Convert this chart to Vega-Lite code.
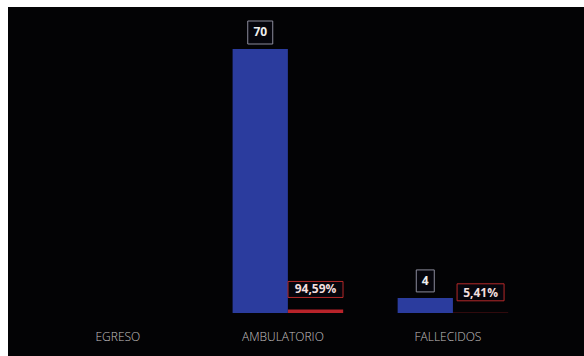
{
  "$schema": "https://vega.github.io/schema/vega-lite/v6.json",
  "autosize": "none",
  "padding": {"left": 8, "top": 7, "right": 0, "bottom": 0},
  "width": 576,
  "height": 349,
  "background": "white",
  "config": {
    "view": {"fill": "#030305", "stroke": null},
    "font": "Open Sans"
  },
  "data": {
    "values": [
      {"cat": "EGRESO", "serie": "Cantidad", "valor": 0, "etiqueta": ""},
      {"cat": "EGRESO", "serie": "Porcentaje", "valor": 0, "etiqueta": ""},
      {"cat": "AMBULATORIO", "serie": "Cantidad", "valor": 70, "etiqueta": "70"},
      {"cat": "AMBULATORIO", "serie": "Porcentaje", "valor": 0.9459, "etiqueta": "94,59%"},
      {"cat": "FALLECIDOS", "serie": "Cantidad", "valor": 4, "etiqueta": "4"},
      {"cat": "FALLECIDOS", "serie": "Porcentaje", "valor": 0.0541, "etiqueta": "5,41%"}
    ]
  },
  "encoding": {
    "x": {
      "field": "cat", "type": "nominal", "sort": null,
      "scale": {"domain": ["EGRESO", "AMBULATORIO", "FALLECIDOS"], "paddingInner": 0.33, "paddingOuter": 0.41, "align": 0.44},
      "axis": {"title": null, "domain": false, "ticks": false, "labelAngle": 0, "offset": -27, "labelPadding": 2, "labelOffset": -5, "labelColor": "#c4c0c0", "labelFontSize": 12, "labelFontWeight": 300}
    },
    "xOffset": {"field": "serie", "type": "nominal", "scale": {"domain": ["Cantidad", "Porcentaje"], "paddingInner": 0}},
    "y": {
      "field": "valor", "type": "quantitative",
      "scale": {"domain": [-11.4, 81.14], "nice": false, "zero": false},
      "axis": null
    }
  },
  "layer": [
    {
      "mark": {"type": "bar"},
      "encoding": {
        "color": {"field": "serie", "type": "nominal", "scale": {"domain": ["Cantidad", "Porcentaje"], "range": ["#2b3c9e", "#b8232a"]}, "legend": null}
      }
    },
    {
      "transform": [{"filter": "datum.etiqueta != ''"}],
      "mark": {"type": "point", "size": 4, "fill": "#05050c", "fillOpacity": 1, "strokeWidth": 1, "opacity": 1},
      "encoding": {
        "shape": {"field": "etiqueta", "type": "nominal", "legend": null, "scale": {"domain": ["70", "4", "94,59%", "5,41%"], "range": ["M-12.5,-28H12.5V-5H-12.5Z", "M-9,-28H9V-6H-9Z", "M-27.5,-28H27.5V-12H-27.5Z", "M-23.5,-29H23.5V-12H-23.5Z"]}},
        "stroke": {"field": "serie", "type": "nominal", "legend": null, "scale": {"domain": ["Cantidad", "Porcentaje"], "range": ["#8c8c9c", "#b52a2a"]}}
      }
    },
    {
      "transform": [{"filter": "datum.serie == 'Cantidad' && datum.etiqueta != ''"}],
      "mark": {"type": "text", "dy": -17, "baseline": "middle", "align": "center", "fontSize": 12, "fontWeight": "bold", "color": "#eeeeee"},
      "encoding": {"text": {"field": "etiqueta"}}
    },
    {
      "transform": [{"filter": "datum.serie == 'Porcentaje' && datum.etiqueta != ''"}],
      "mark": {"type": "text", "dy": -20, "baseline": "middle", "align": "center", "fontSize": 12, "fontWeight": "bold", "color": "#f2dede"},
      "encoding": {"text": {"field": "etiqueta"}}
    }
  ]
}
